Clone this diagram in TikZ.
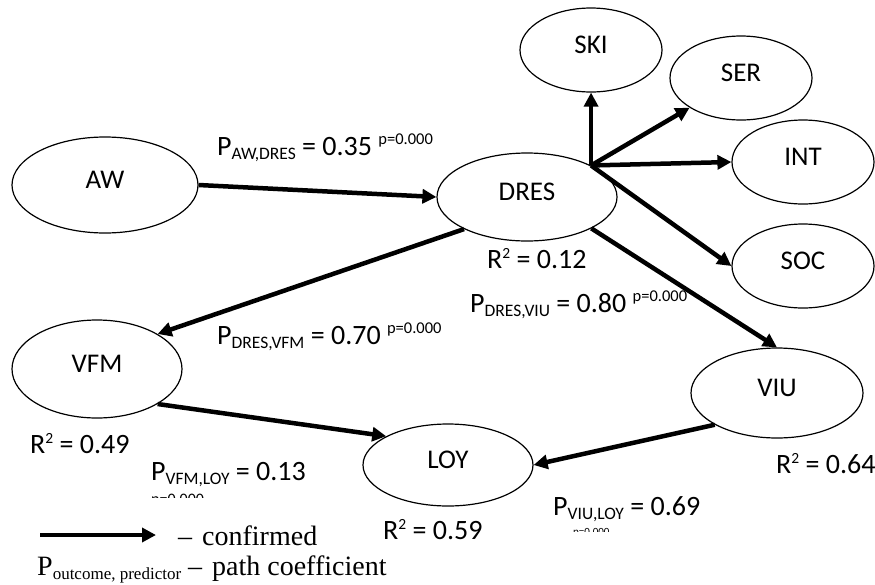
\documentclass[tikz,border=0pt]{standalone}
\usepackage{fontspec}
\setmainfont{Carlito}
\newfontfamily\timesf{Liberation Serif}
\usetikzlibrary{shapes.geometric,arrows.meta}
\newcommand{\subtx}[1]{\raisebox{-4pt}{\fontsize{17.5}{17.5}\selectfont #1}}
\newcommand{\suptx}[1]{\raisebox{11pt}{\fontsize{16.5}{16.5}\selectfont #1}}
\newcommand{\Rsqx}{R\raisebox{10pt}{\fontsize{15.5}{15.5}\selectfont 2}}
\begin{document}
\begin{tikzpicture}[x=1pt,y=-1pt,
  lat/.style={ellipse,draw,line width=1.2pt,inner sep=0pt,
    text height=17pt,text depth=10pt,font=\fontsize{27}{27}\selectfont},
  small/.style={lat,minimum width=142pt,minimum height=84pt},
  arr/.style={line width=4.5pt,-{Triangle[length=14pt,width=14pt]}},
  lbl/.style={anchor=base west,inner sep=0pt,font=\fontsize{28}{28}\selectfont},
  leg/.style={anchor=base west,inner sep=0pt,font=\timesf\fontsize{28}{28}\selectfont}]
\useasboundingbox (0,0) rectangle (875,584);
% nodes
\node[lat,minimum width=186pt,minimum height=96pt] (AW) at (105,185) {AW};
\node[lat,minimum width=180pt,minimum height=88pt] (DRES) at (527,197) {DRES};
\node[small] (SKI) at (591,50) {SKI};
\node[small] (SER) at (741,78) {SER};
\node[small] (INT) at (803,162) {INT};
\node[small] (SOC) at (803,266) {SOC};
\node[lat,minimum width=170pt,minimum height=98pt] (VFM) at (97,369) {VFM};
\node[lat,minimum width=170pt,minimum height=82pt] (LOY) at (448,465) {LOY};
\node[lat,minimum width=172pt,minimum height=90pt] (VIU) at (777,393) {VIU};
% connectors
\draw[arr] (AW.east) -- (DRES.west);
\draw[arr] (DRES.207) -- (VFM.30);
\draw[arr] (VFM.-30) -- (LOY.155);
\draw[arr] (VIU.207) -- (LOY.east);
\draw[arr] (DRES.-26) -- (VIU.north);
\coordinate (hub) at (DRES.north east);
\draw[arr] (hub) -- (hub |- SKI.south);
\draw[arr] (hub) -- (SER.210);
\draw[arr] (hub) -- (INT.west);
\draw[arr] (hub) -- (SOC.west);
% labels
\node[lbl] (lAW) at (217,155) {P\subtx{AW,DRES} = 0.35 \suptx{p=0.000}};
\node[lbl] (rDRES) at (487,268) {\Rsqx{} = 0.12};
\node[lbl] (lVIU) at (470,312) {P\subtx{DRES,VIU} = 0.80 \suptx{p=0.000}};
\node[lbl] (lVFM) at (217,344) {P\subtx{DRES,VFM} = 0.70 \suptx{p=0.000}};
\node[lbl] (rVFM) at (30,453) {\Rsqx{} = 0.49};
\node[lbl] (lVFMLOY) at (151,480) {P\subtx{VFM,LOY} = 0.13};
\node[lbl] (rLOY) at (383,539) {\Rsqx{} = 0.59};
\node[lbl] (rVIU) at (776,473) {\Rsqx{} = 0.64};
\node[lbl] (lVIULOY) at (553,515) {P\subtx{VIU,LOY} = 0.69};
\begin{scope}
\clip (140,490) rectangle (230,497);
\node[anchor=base west,inner sep=0pt,font=\fontsize{16}{16}\selectfont] (pA) at (151,504) {p=0.000};
\end{scope}
\begin{scope}
\clip (565,526) rectangle (620,531);
\node[anchor=base west,inner sep=0pt,font=\fontsize{11}{11}\selectfont] (pB) at (573,535) {p=0.000};
\end{scope}
% legend
\coordinate (legA) at (40,535);
\coordinate (legB) at (156,535);
\draw[arr] (legA) -- (legB);
\node[leg] (legT1) at (178,545) {–\hspace{10pt}confirmed};
\node[leg] (legT2) at (37,575) {P\raisebox{-4pt}{\fontsize{17}{17}\selectfont outcome, predictor} –\hspace{10pt}path coefficient};
\end{tikzpicture}
\end{document}
